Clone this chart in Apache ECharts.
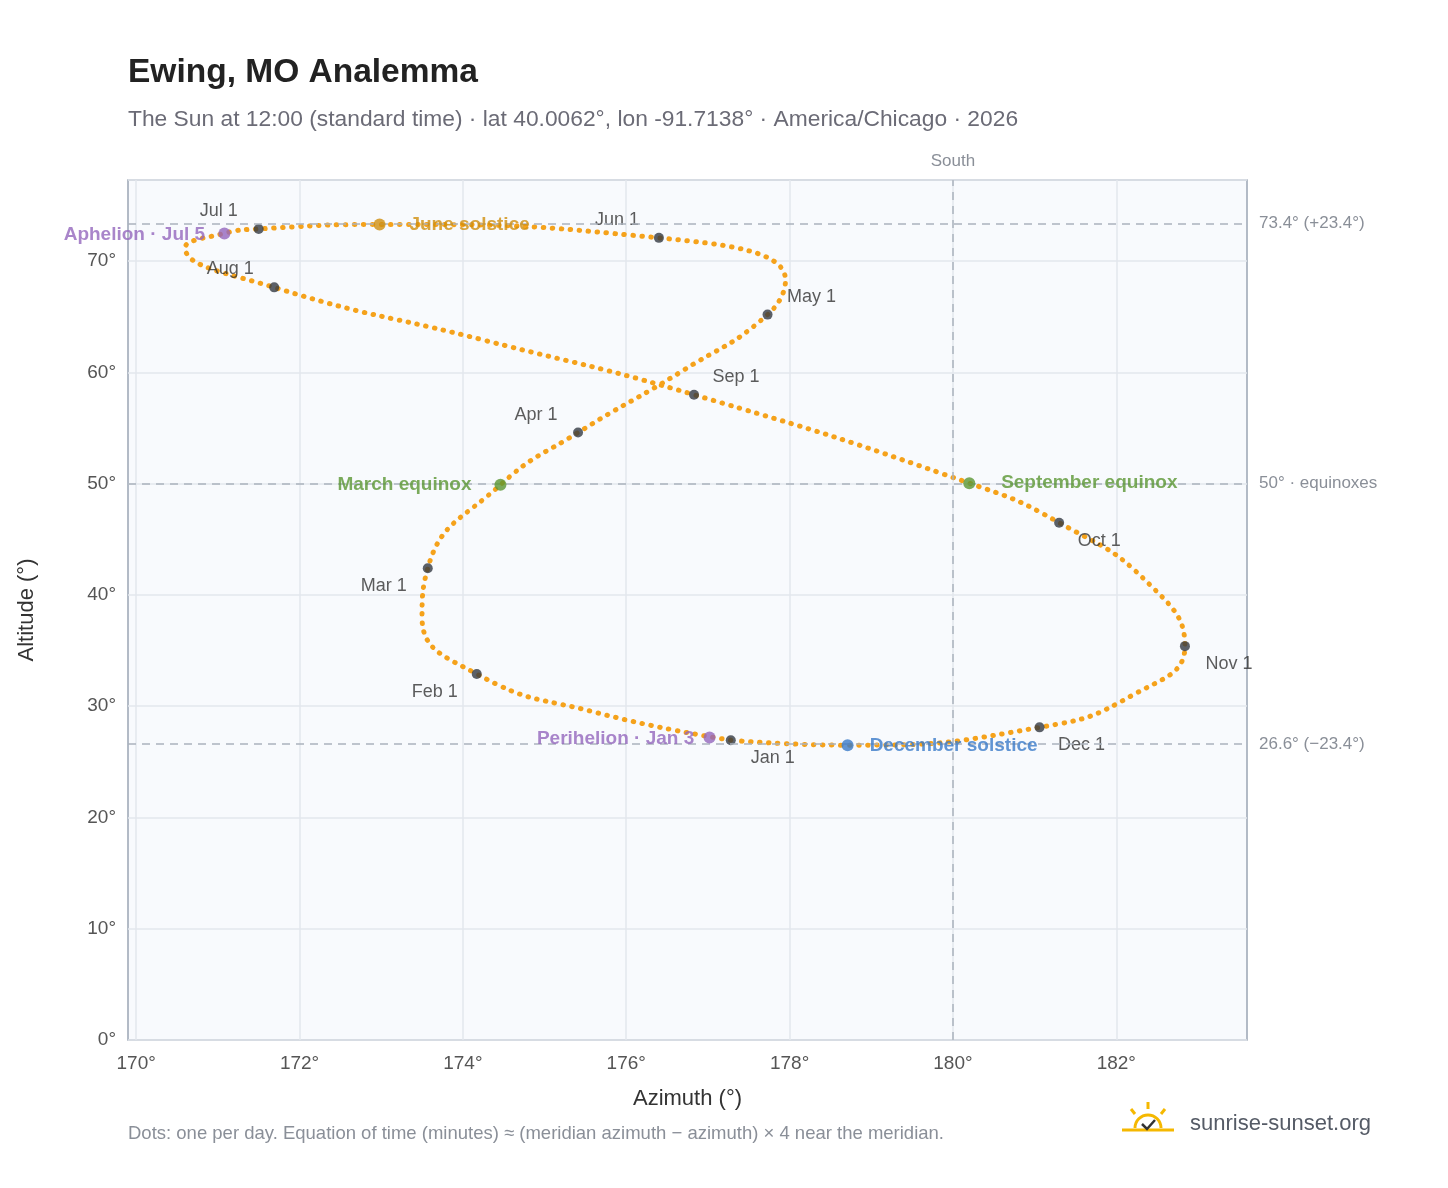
<!DOCTYPE html>
<html><head><meta charset="utf-8">
<script src="https://cdn.jsdelivr.net/npm/echarts@6/dist/echarts.min.js"></script>
<style>html,body{margin:0;padding:0;background:#fff}#c{width:1448px;height:1188px}</style>
</head><body><div id="c"></div>
<script>
// path estimates: [azimuth, altitude]
const pathAz  = [177.28,175.65,174.17,173.50,173.57,174.46,175.41,176.70,177.73,177.95,176.40,172.98,171.50,171.08,170.60,171.69,174.26,176.83,180.20,181.30,182.40,182.84,182.20,181.06,178.71,177.35];
const pathAlt = [26.95, 29.4, 32.9, 38.0, 42.4, 49.9, 54.6, 60.2, 65.2, 68.3, 72.1, 73.3, 72.9, 72.5, 71.2, 67.65, 62.9, 58.0, 50.05, 46.5, 41.0, 35.4, 31.0, 28.1, 26.5, 26.9];
const monthNames = ["Jan 1","Feb 1","Mar 1","Apr 1","May 1","Jun 1","Jul 1","Aug 1","Sep 1","Oct 1","Nov 1","Dec 1"];
const monthAz  = [177.28,174.17,173.57,175.41,177.73,176.40,171.50,171.69,176.83,181.30,182.84,181.06];
const monthAlt = [26.95,32.9,42.4,54.6,65.2,72.1,72.9,67.65,58.0,46.5,35.4,28.1];
const eventNames = ["March equinox","June solstice","September equinox","December solstice","Perihelion · Jan 3","Aphelion · Jul 5"];
const eventAz  = [174.46,172.98,180.20,178.71,177.02,171.08];
const eventAlt = [49.9,73.3,50.05,26.5,27.2,72.5];
const refAlts = [73.4,50,26.6];
const refLabels = ["73.4° (+23.4°)","50° · equinoxes","26.6° (−23.4°)"];
const xTicks = [170,172,174,176,178,180,182];

const monthOffsets=[[42,18],[-42,18],[-44,18],[-42,-18],[44,-18],[-42,-18],[-40,-18],[-44,-18],[42,-18],[40,18],[44,18],[42,18]];
const eventColors=["#5a9632","#cf8e0e","#5a9632","#3a7bc8","#9467bd","#9467bd"];
const eventOffsets=[[-96,0],[90,0],[120,0],[106,1],[-94,1],[-90,1]];
const F='"Liberation Sans", Arial, sans-serif';
const chart=echarts.init(document.getElementById('c'));
chart.setOption({
  backgroundColor:'#fff',
  textStyle:{fontFamily:F},
  grid:{left:128,right:201,top:180,bottom:148,show:true,backgroundColor:'#f8fafd',borderColor:'#9aa5b4',borderWidth:1.5},
  title:[{text:'Ewing, MO Analemma',left:123,top:51,textStyle:{fontSize:33.5,fontWeight:'bold',color:'#222',fontFamily:F}},
         {text:'The Sun at 12:00 (standard time) · lat 40.0062°, lon -91.7138° · America/Chicago · 2026',left:123,top:103,textStyle:{fontSize:22.8,fontWeight:'normal',color:'#6b6b76',fontFamily:F}}],
  xAxis:{type:'value',min:169.9,max:183.6,name:'Azimuth (°)',nameLocation:'middle',nameGap:48,nameTextStyle:{fontSize:22,color:'#333'},
    axisLine:{show:false},axisTick:{show:false,customValues:xTicks},
    axisLabel:{customValues:xTicks,formatter:v=>v+'°',fontSize:19,color:'#555',margin:14},
    splitLine:{show:true,lineStyle:{color:'#e3e7ec',width:1.5}}},
  yAxis:{type:'value',min:0,max:77.3,interval:10,name:'Altitude (°)',nameLocation:'middle',nameGap:90,nameTextStyle:{fontSize:22,color:'#333'},
    axisLine:{show:false},axisTick:{show:false},
    axisLabel:{formatter:v=>v+'°',fontSize:19,color:'#555',margin:12,showMaxLabel:false},
    splitLine:{lineStyle:{color:'#e3e7ec',width:1.5}}},
  series:[
    {type:'line',data:pathAz.map((a,i)=>[a,pathAlt[i]]),smooth:0.5,symbol:'none',
     lineStyle:{color:'#f5a21b',width:5,type:[0.5,8.5],cap:'round'},z:2,
     markLine:{silent:true,symbol:'none',
       data:refAlts.map((v,i)=>({yAxis:v,label:{show:true,position:'end',formatter:refLabels[i],color:'#8a8f98',fontSize:17,distance:12}}))
         .concat([{xAxis:180,label:{show:true,position:'end',formatter:'South',color:'#8a8f98',fontSize:17,distance:10}}]),
       lineStyle:{color:'#aab2bd',type:[8,6],width:1.5}}},
    {type:'scatter',data:monthAz.map((a,i)=>({value:[a,monthAlt[i]],label:{offset:monthOffsets[i]}})),symbolSize:10,
     itemStyle:{color:'#333a42'},z:4,
     label:{show:true,formatter:p=>monthNames[p.dataIndex],fontSize:18,color:'#333'}},
    {type:'scatter',data:eventAz.map((a,i)=>({value:[a,eventAlt[i]],itemStyle:{color:eventColors[i]},
      label:{offset:eventOffsets[i],color:eventColors[i]}})),symbolSize:12,z:5,
     label:{show:true,formatter:p=>eventNames[p.dataIndex],fontSize:19,fontWeight:'bold'}}
  ],
  graphic:[
    {type:'text',left:128,top:1124,style:{text:'Dots: one per day. Equation of time (minutes) ≈ (meridian azimuth − azimuth) × 4 near the meridian.',fontSize:18.5,fill:'#8a8f98',fontFamily:F}},
    {type:'text',left:1190,top:1113,style:{text:'sunrise-sunset.org',fontSize:22,fill:'#555b66',fontFamily:F}},
    {type:'arc',shape:{cx:1148,cy:1128,r:13,startAngle:Math.PI,endAngle:2*Math.PI},style:{stroke:'#f5b800',lineWidth:3,fill:'none'}},
    {type:'line',shape:{x1:1122,y1:1130,x2:1174,y2:1130},style:{stroke:'#f5b800',lineWidth:3}},
    {type:'line',shape:{x1:1148,y1:1102,x2:1148,y2:1109},style:{stroke:'#f5b800',lineWidth:3}},
    {type:'line',shape:{x1:1131,y1:1109,x2:1135,y2:1114},style:{stroke:'#f5b800',lineWidth:3}},
    {type:'line',shape:{x1:1165,y1:1109,x2:1161,y2:1114},style:{stroke:'#f5b800',lineWidth:3}},
    {type:'polyline',shape:{points:[[1142,1124],[1147,1129],[1155,1120]]},style:{stroke:'#333',lineWidth:2.5,fill:'none'}}
  ]
});
</script></body></html>
